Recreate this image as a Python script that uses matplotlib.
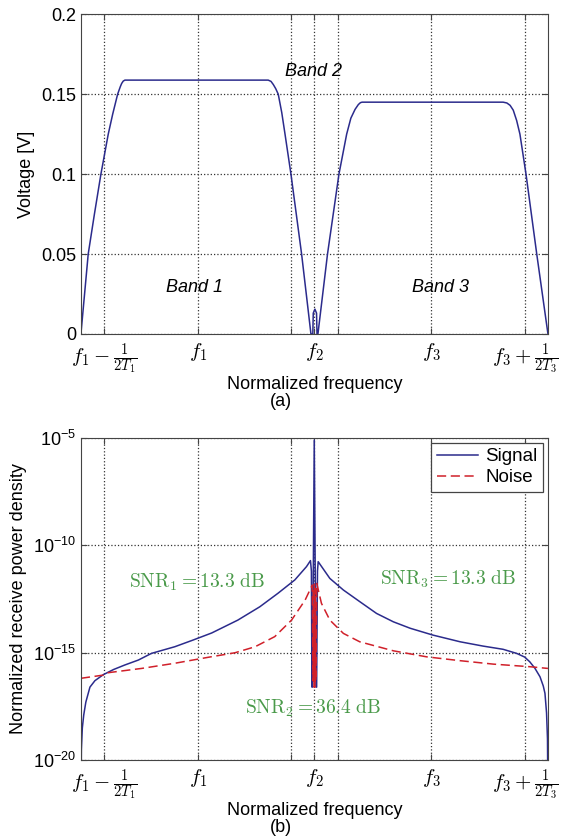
import matplotlib
matplotlib.use('Agg')
from matplotlib import pyplot as plt
import numpy as np

# normalized frequency tick positions and labels
tick_pos = [0.05, 0.25, 0.45, 0.5, 0.55, 0.75, 0.95]
tick_lbl = [r'$f_1-\frac{1}{2T_1}$', r'$f_1$', '', r'$f_2$', '', r'$f_3$', r'$f_3+\frac{1}{2T_3}$']

# (a) voltage spectrum
volt_x = [0.0, 0.0156, 0.0289, 0.0428, 0.0585, 0.068, 0.0786, 0.0842, 0.0872, 0.0906, 0.0942,
          0.401, 0.407, 0.412, 0.417, 0.4225, 0.430, 0.437, 0.4497, 0.4725, 0.4925,
          0.4965, 0.4975, 0.5010, 0.5045, 0.5055, 0.5075,
          0.528, 0.5525, 0.569, 0.578, 0.587, 0.594, 0.5985, 0.602,
          0.904, 0.912, 0.919, 0.9257, 0.933, 0.940, 0.953, 0.976, 1.0]
volt_y = [0.0, 0.05, 0.075, 0.1, 0.125, 0.1375, 0.15, 0.1546, 0.1567, 0.1582, 0.1588,
          0.1588, 0.158, 0.156, 0.1535, 0.15, 0.1385, 0.125, 0.1, 0.05, 0.0,
          0.0, 0.013, 0.0155, 0.013, 0.0, 0.0,
          0.05, 0.1, 0.125, 0.135, 0.1405, 0.1435, 0.1447, 0.145,
          0.145, 0.1445, 0.143, 0.14, 0.1335, 0.125, 0.1, 0.05, 0.0]

# (b) power densities, log10 values
sig_x = [0.0, 0.001, 0.003, 0.006, 0.0105, 0.0193, 0.03, 0.048, 0.07, 0.094, 0.123, 0.151,
         0.201, 0.240, 0.280, 0.336, 0.383, 0.422, 0.458, 0.483, 0.4915, 0.4935, 0.4946,
         0.4958, 0.4996, 0.5035, 0.5047, 0.5065, 0.508, 0.533, 0.562, 0.597, 0.633, 0.669,
         0.705, 0.754, 0.812, 0.861, 0.904, 0.933, 0.950, 0.961, 0.972, 0.983, 0.990,
         0.9936, 0.997, 0.999, 1.0]
sig_log = [-22, -19.5, -18.5, -17.9, -17.3, -16.6, -16.3, -16.02, -15.78, -15.57, -15.34, -15.03,
           -14.72, -14.41, -14.08, -13.48, -12.86, -12.23, -11.61, -10.99, -10.71, -11.2, -16.6,
           -16.6, -5.1, -16.6, -16.6, -11.2, -10.76, -11.54, -12.08, -12.62, -13.17, -13.56,
           -13.86, -14.18, -14.49, -14.69, -14.84, -15.03, -15.2, -15.42, -15.72, -16.12, -16.55,
           -16.89, -17.8, -19.0, -22]

noise_x = [0.0, 0.048, 0.058, 0.130, 0.201, 0.273, 0.330, 0.373, 0.415, 0.451, 0.480,
           0.4953, 0.497, 0.498, 0.499, 0.500, 0.501, 0.502, 0.503, 0.505,
           0.515, 0.533, 0.562, 0.597, 0.669, 0.740, 0.812, 0.883, 0.961, 1.0]
noise_log = [-16.19, -16.04, -15.93, -15.73, -15.49, -15.21, -15.0, -14.72, -14.25, -13.48, -12.55,
             -11.85, -16.3, -12.0, -16.6, -11.8, -16.6, -12.0, -16.3, -11.77,
             -12.70, -13.48, -14.10, -14.49, -14.91, -15.19, -15.37, -15.53, -15.65, -15.73]

snr_text = [r'$\mathrm{SNR}_1 = 13.3\ \mathrm{dB}$',
            r'$\mathrm{SNR}_2 = 36.4\ \mathrm{dB}$',
            r'$\mathrm{SNR}_3 = 13.3\ \mathrm{dB}$']

plt.rcParams['font.family'] = ['Liberation Sans', 'DejaVu Sans']
plt.rcParams['mathtext.fontset'] = 'cm'
plt.rcParams['font.size'] = 13

blue = '#2b2b8c'
red = '#d0202a'
green = '#4a9a4a'

fig = plt.figure(figsize=(5.62, 8.39), dpi=100)
ax1 = fig.add_axes([0.144, 0.602, 0.831, 0.381])
ax2 = fig.add_axes([0.144, 0.094, 0.831, 0.384])


def style(ax):
	ax.set_xlim(0, 1)
	ax.set_xticks(tick_pos)
	ax.set_xticklabels(tick_lbl, fontsize=15)
	ax.tick_params(direction='in', top=True, right=True, length=4, color='#444')
	ax.tick_params(axis='x', pad=5)
	ax.grid(True, linestyle=':', color='#333', linewidth=0.9)
	for s in ax.spines.values():
		s.set_color('#444')
	ax.set_xlabel('Normalized frequency', labelpad=0)


ax1.plot(volt_x, volt_y, color=blue, linewidth=1.1)
style(ax1)
ax1.set_ylim(0, 0.2)
ax1.set_yticks([0, 0.05, 0.1, 0.15, 0.2])
ax1.set_yticklabels(['0', '0.05', '0.1', '0.15', '0.2'])
ax1.set_ylabel('Voltage [V]')
ax1.text(0.244, 0.029, 'Band 1', style='italic', ha='center', va='center')
ax1.text(0.499, 0.164, 'Band 2', style='italic', ha='center', va='center')
ax1.text(0.769, 0.029, 'Band 3', style='italic', ha='center', va='center')
fig.text(0.5, 0.522, '(a)', ha='center', va='center')

ax2.semilogy(sig_x, 10.0 ** np.array(sig_log), color=blue, linewidth=1.1, label='Signal')
ax2.semilogy(noise_x, 10.0 ** np.array(noise_log), color=red, linewidth=1.1,
             linestyle=(0, (6, 3)), label='Noise')
style(ax2)
ax2.set_ylim(1e-20, 1e-5)
ax2.set_yticks([1e-20, 1e-15, 1e-10, 1e-5])
ax2.set_yticklabels([r'$\mathdefault{10^{-20}}$', r'$\mathdefault{10^{-15}}$',
                     r'$\mathdefault{10^{-10}}$', r'$\mathdefault{10^{-5}}$'])
ax2.minorticks_off()
ax2.set_ylabel('Normalized receive power density')
ax2.text(0.248, 10 ** -11.7, snr_text[0], color=green, ha='center', va='center', fontsize=14)
ax2.text(0.497, 10 ** -17.6, snr_text[1], color=green, ha='center', va='center', fontsize=14)
ax2.text(0.786, 10 ** -11.6, snr_text[2], color=green, ha='center', va='center', fontsize=14)
leg = ax2.legend(loc='upper right', fancybox=False, framealpha=1, edgecolor='#444',
                 handlelength=2.2, borderpad=0.3, labelspacing=0.2, handletextpad=0.4,
                 borderaxespad=0.25, fontsize=13.5)
leg.get_frame().set_linewidth(0.9)
fig.text(0.5, 0.014, '(b)', ha='center', va='center')

fig.savefig('out.png', dpi=100)
